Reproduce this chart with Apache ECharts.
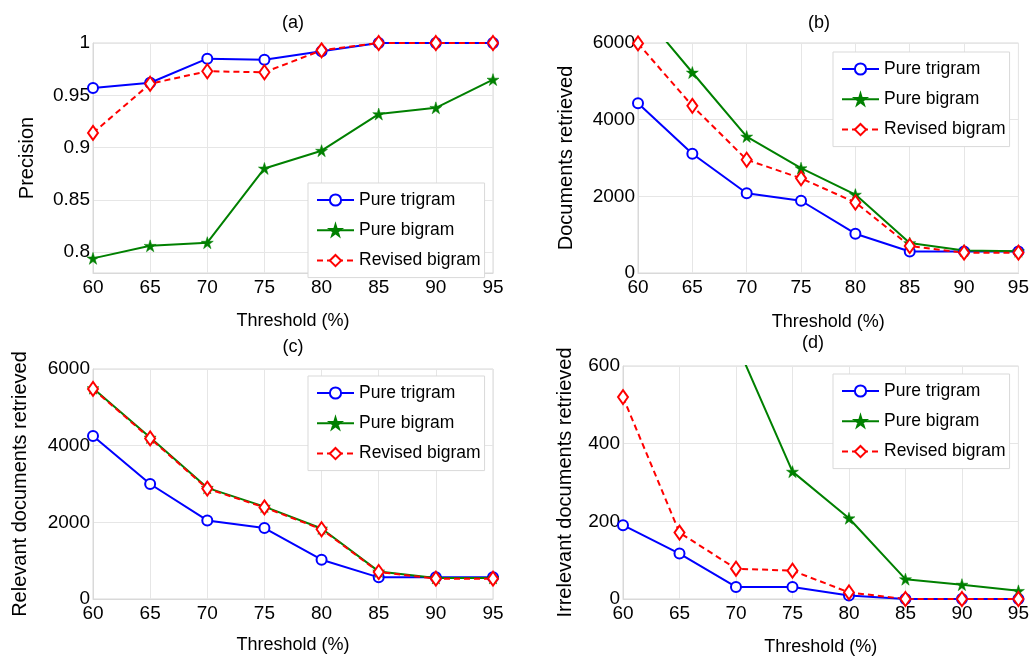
<!DOCTYPE html>
<html>
<head>
<meta charset="utf-8">
<script src="https://cdn.jsdelivr.net/npm/echarts@6/dist/echarts.min.js"></script>
<style>
  html, body { margin: 0; padding: 0; background: #fff; }
  #main { width: 1032px; height: 660px; }
</style>
</head>
<body>
<div id="main"></div>
<script>
// threshold (%) on every x axis
const thresholds = [60, 65, 70, 75, 80, 85, 90, 95]

// (a) precision
const precTrigram = [0.957, 0.962, 0.985, 0.984, 0.992, 1, 1, 1]
const precBigram  = [0.794, 0.806, 0.809, 0.880, 0.897, 0.932, 0.938, 0.965]
const precRevised = [0.914, 0.961, 0.973, 0.972, 0.993, 1, 1, 1]

// (b) documents retrieved
const docsTrigram = [4430, 3110, 2080, 1885, 1025, 562, 562, 562]
const docsBigram  = [6920, 5230, 3560, 2735, 2045, 780, 585, 568]
const docsRevised = [5990, 4360, 2955, 2470, 1840, 705, 530, 530]

// (c) relevant documents retrieved
const relTrigram = [4250, 3000, 2050, 1850, 1025, 565, 565, 565]
const relBigram  = [5500, 4210, 2900, 2410, 1840, 720, 550, 550]
const relRevised = [5480, 4190, 2880, 2390, 1820, 705, 530, 530]

// (d) irrelevant documents retrieved
const irrTrigram = [190, 117, 31, 31, 9, 0, 0, 0]
const irrBigram  = [1420, 1020, 660, 328, 208, 51, 37, 21]
const irrRevised = [520, 171, 78, 73, 17, 0, 0, 0]

const names = ['Pure trigram', 'Pure bigram', 'Revised bigram']
const FONT = 'Liberation Sans, Arial, sans-serif'
const STAR = 'path://M50 0 L61.17 34.63 L97.55 34.55 L68.07 55.87 L79.39 90.45 L50 69 L20.61 90.45 L31.93 55.87 L2.45 34.55 L38.83 34.63 Z'

const pairs = vals => thresholds.map((t, i) => [t, vals[i]])

// one panel = 3 lines in the same style
function panelSeries(idx, tri, bi, rev) {
  return [
    {
      name: names[0], type: 'line', xAxisIndex: idx, yAxisIndex: idx,
      data: pairs(tri), symbol: 'circle', symbolSize: 10,
      lineStyle: { color: '#0000ff', width: 2 },
      itemStyle: { color: '#ffffff', borderColor: '#0000ff', borderWidth: 2 },
    },
    {
      name: names[1], type: 'line', xAxisIndex: idx, yAxisIndex: idx,
      data: pairs(bi), symbol: STAR, symbolSize: 12,
      lineStyle: { color: '#008000', width: 2 },
      itemStyle: { color: '#008000', borderColor: '#008000', borderWidth: 0.5 },
    },
    {
      name: names[2], type: 'line', xAxisIndex: idx, yAxisIndex: idx,
      data: pairs(rev), symbol: 'diamond', symbolSize: [10, 14],
      lineStyle: { color: '#ff0000', width: 2, type: [6, 4] },
      itemStyle: { color: '#ffffff', borderColor: '#ff0000', borderWidth: 2 },
    },
  ]
}

const grids = [
  { left: 93,  top: 43,  width: 400, height: 230 },
  { left: 638, top: 43,  width: 381, height: 230 },
  { left: 93,  top: 369, width: 400, height: 230 },
  { left: 623, top: 366, width: 396, height: 233 },
]

const xNameGaps = [39, 40, 37, 39]
const xAxes = grids.map((g, i) => ({
  type: 'value', gridIndex: i, min: 60, max: 95, interval: 5,
  name: 'Threshold (%)', nameLocation: 'middle', nameGap: xNameGaps[i],
  nameTextStyle: { fontFamily: FONT, fontSize: 18, color: '#000' },
  axisLine: { lineStyle: { color: '#d9d9d9' } },
  axisTick: { show: false },
  axisLabel: { fontFamily: FONT, fontSize: 19, color: '#000', margin: 5 },
  splitLine: { lineStyle: { color: '#e6e6e6' } },
}))

const plain = v => String(v)
const yBase = (i, name, gap) => ({
  type: 'value', gridIndex: i,
  name: name, nameLocation: 'middle', nameGap: gap, nameRotate: 90,
  nameTextStyle: { fontFamily: FONT, fontSize: 20, color: '#000' },
  axisLine: { show: true, lineStyle: { color: '#d9d9d9' } },
  axisTick: { show: false },
  axisLabel: { fontFamily: FONT, fontSize: 19, color: '#000', margin: 3, formatter: plain },
  splitLine: { lineStyle: { color: '#e6e6e6' } },
})

const precTicks = [0.8, 0.85, 0.9, 0.95, 1]
const yAxes = [
  Object.assign(yBase(0, 'Precision', 56), {
    min: 0.78, max: 1,
    axisLabel: { fontFamily: FONT, fontSize: 19, color: '#000', margin: 3, customValues: precTicks, formatter: plain },
    axisTick: { show: false, customValues: precTicks },
  }),
  Object.assign(yBase(1, 'Documents retrieved', 62), { min: 0, max: 6000, interval: 2000 }),
  Object.assign(yBase(2, 'Relevant documents retrieved', 63), { min: 0, max: 6000, interval: 2000 }),
  Object.assign(yBase(3, 'Irrelevant documents retrieved', 48), { min: 0, max: 600, interval: 200 }),
]

const legendPos = [
  { left: 308, top: 183 },
  { left: 833, top: 52 },
  { left: 308, top: 376 },
  { left: 833, top: 374 },
]
const legends = legendPos.map(p => ({
  left: p.left, top: p.top, orient: 'vertical', data: names,
  itemWidth: 37, itemHeight: 14, itemGap: 12.3,
  padding: [8, 4, 8, 8],
  borderColor: '#d9d9d9', borderWidth: 1, backgroundColor: '#fff',
  textStyle: { fontFamily: FONT, fontSize: 17.5, color: '#000' },
  selectedMode: false,
}))

const titles = [
  { text: '(a)', x: 293, y: 23 },
  { text: '(b)', x: 819, y: 23 },
  { text: '(c)', x: 293, y: 347 },
  { text: '(d)', x: 813, y: 343 },
]

const chart = echarts.init(document.getElementById('main'))
chart.setOption({
  animation: false,
  backgroundColor: '#fff',
  grid: grids.map(g => Object.assign({ show: true, borderColor: '#d9d9d9', borderWidth: 1 }, g)),
  xAxis: xAxes,
  yAxis: yAxes,
  legend: legends,
  graphic: titles.map(t => ({
    type: 'text', x: t.x, y: t.y,
    style: { text: t.text, font: '18px ' + FONT, fill: '#000', align: 'center', verticalAlign: 'middle' },
  })),
  series: [
    ...panelSeries(0, precTrigram, precBigram, precRevised),
    ...panelSeries(1, docsTrigram, docsBigram, docsRevised),
    ...panelSeries(2, relTrigram, relBigram, relRevised),
    ...panelSeries(3, irrTrigram, irrBigram, irrRevised),
  ],
})
</script>
</body>
</html>
